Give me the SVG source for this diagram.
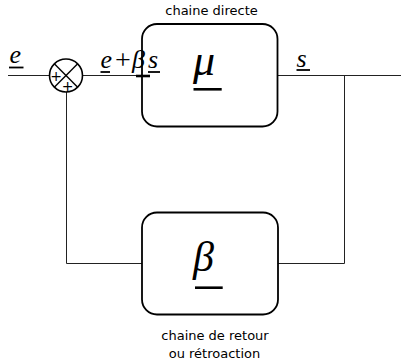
<svg xmlns="http://www.w3.org/2000/svg" width="401" height="360" viewBox="0 0 401 360">
<style>
.box{fill:#fff;stroke:#000;stroke-width:1.8}
.wire{fill:none;stroke:#222;stroke-width:1}
.math{font-family:"Liberation Serif","Times New Roman",serif;font-style:italic;fill:#000}
.op{font-family:"Liberation Serif","Times New Roman",serif;fill:#000}
.lbl{font-family:"DejaVu Sans",sans-serif;font-size:13px;fill:#000;text-anchor:middle}
.ul{stroke:#000;stroke-width:1.8}
.ulb{stroke:#000;stroke-width:2.6}
</style>
<rect width="401" height="360" fill="#fff"/>
<g id="connectors">
<line class="wire" x1="8" y1="75.5" x2="49.5" y2="75.5"/>
<line class="wire" x1="82.5" y1="75.5" x2="142" y2="75.5"/>
<line class="wire" x1="277" y1="75.5" x2="401" y2="75.5"/>
<polyline class="wire" points="344.5,75.5 344.5,263.5 278,263.5"/>
<polyline class="wire" points="142,263.5 66.5,263.5 66.5,92"/>
</g>
<g id="input-label">
<text class="math" x="9.5" y="62.5" font-size="26">e</text>
<line class="ul" x1="9" y1="67.5" x2="23.5" y2="67.5"/>
</g>
<g id="sum">
<circle cx="66" cy="75.5" r="16.5" fill="#fff" stroke="#000" stroke-width="1.6"/>
<line x1="54.3" y1="63.8" x2="77.7" y2="87.2" stroke="#000" stroke-width="1.4"/>
<line x1="77.7" y1="63.8" x2="54.3" y2="87.2" stroke="#000" stroke-width="1.4"/>
<text x="56" y="80.5" font-family="DejaVu Sans,sans-serif" font-size="14" text-anchor="middle">+</text>
<text x="67.5" y="90.5" font-family="DejaVu Sans,sans-serif" font-size="14" text-anchor="middle">+</text>
</g>
<g id="direct">
<text class="lbl" x="211.5" y="15">chaine directe</text>
<rect class="box" x="142" y="24" width="135.5" height="102.5" rx="15"/>
<text class="math" x="193" y="75" font-size="44">μ</text>
<line class="ulb" x1="193.5" y1="89.3" x2="221.7" y2="89.3"/>
</g>
<g id="sum-label">
<text class="math" x="100.5" y="68" font-size="26">e</text>
<line class="ul" x1="100.5" y1="72" x2="110" y2="72"/>
<text class="op" x="123" y="69" font-size="28" text-anchor="middle">+</text>
<text class="math" x="132" y="68" font-size="26">β</text>
<line class="ulb" x1="136" y1="76" x2="150" y2="76"/>
<text class="math" x="148" y="68" font-size="26">s</text>
<line class="ul" x1="148" y1="72" x2="160" y2="72"/>
</g>
<g id="output-label">
<text class="math" x="296.5" y="67" font-size="26">s</text>
<line class="ul" x1="296.5" y1="70" x2="310" y2="70"/>
</g>
<g id="feedback">
<rect class="box" x="142" y="212.5" width="136" height="102" rx="15"/>
<text class="math" x="193" y="271.3" font-size="42">β</text>
<line class="ulb" x1="195" y1="287.7" x2="222.7" y2="287.7"/>
<text class="lbl" x="215" y="340">chaine de retour</text>
<text class="lbl" x="214.5" y="357.5">ou rétroaction</text>
</g>
</svg>
